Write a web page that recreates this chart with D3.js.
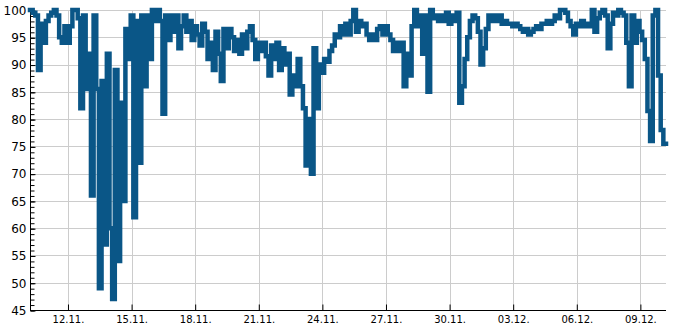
<!DOCTYPE html>
<html>
<head>
<meta charset="utf-8">
<script src="https://cdn.jsdelivr.net/npm/d3@7/dist/d3.min.js"></script>
<style>
	body { margin: 0; background: #fff; }
	svg { display: block; font-family: "DejaVu Sans", sans-serif; }
</style>
</head>
<body>
<svg id="chart" width="685" height="330"></svg>
<script>
'use strict';

//Readings: one every 3 hours, first one on 10.11. at 05:00
var firstReading = new Date(2020, 10, 10, 5, 0);
var stepHours = 3;

var levels = [
	100, 99.5, 99, 89, 97.5, 94, 98, 99, 99.5, 100,
	99, 95, 94, 97, 94, 97, 100, 100, 98.5, 82,
	99, 85.5, 92, 66, 99, 85.5, 49, 87, 57, 92,
	60, 47, 89, 54, 83, 65, 96.5, 91, 99, 62,
	98, 72, 99, 86, 99, 91, 100, 98, 100, 98,
	81, 99, 94.5, 99, 96, 99, 93, 97, 99, 96,
	98, 94.5, 97, 95.5, 93.5, 97.5, 96, 91, 94, 89,
	96, 92, 87, 96.5, 93, 96.5, 95, 92.5, 94.5, 92,
	95.5, 93, 96, 97, 94.5, 91, 94, 92.5, 94, 91.5,
	88, 93.5, 91, 94, 89, 93, 90, 92, 84.5, 88,
	86, 91, 86, 82, 71.5, 80, 70, 93, 82, 90,
	88.5, 91, 90.5, 92.5, 93.5, 95.5, 95, 97, 95.5, 97.5,
	95.5, 98, 100, 96, 98, 97, 97.5, 95.5, 94.5, 95.5,
	94.5, 96.5, 97, 95.5, 97, 95.5, 94.5, 92.5, 94, 92.5,
	94, 86, 92, 88, 97, 100, 97, 99, 92, 99,
	85, 100, 98.5, 99, 98, 99, 98, 99.5, 97.5, 99,
	98, 99.5, 83, 86, 91, 95, 98, 99, 98.5, 96,
	90, 93, 96.5, 99, 98, 99, 98, 99, 97.5, 98,
	97.5, 97.5, 97, 97.5, 97, 96.5, 96, 96.5, 95.5, 96,
	96.5, 97, 96.5, 97.5, 97.5, 98, 97.5, 98, 99, 98.5,
	100, 100, 99.5, 98, 97, 95.5, 97.5, 97, 98, 97,
	97.5, 97, 100, 96, 98.5, 99.5, 100, 99, 93, 97.5,
	99.5, 99, 100, 99.5, 99, 94, 86, 99, 94, 98,
	96, 94.5, 91, 81.5, 76, 99, 100, 88, 78, 75.5,
	75.5
];

var yMajorTicks = [45, 50, 55, 60, 65, 70, 75, 80, 85, 90, 95, 100];
var yMinorTicks = d3.range(45, 101, 1);
var xTickDays = ['2020-11-12', '2020-11-15', '2020-11-18', '2020-11-21', '2020-11-24',
	'2020-11-27', '2020-11-30', '2020-12-03', '2020-12-06', '2020-12-09'];

var lineColour = '#0a5687';
var gridColour = '#cccccc';

var plotLeft = 30, plotRight = 666, plotTop = 10, plotBottom = 310;

var parseDay = d3.timeParse('%Y-%m-%d');
var xTicks = xTickDays.map(parseDay);

var data = levels.map(function(v, i){
	return {t: new Date(firstReading.getTime() + i * stepHours * 3600 * 1000), v: v};
});

var svg = d3.select('#chart');

var x = d3.scaleTime()
	.domain(d3.extent(data, function(d){ return d.t; }))
	.range([plotLeft, plotRight]);

var y = d3.scaleLinear()
	.domain([45, 100])
	.range([plotBottom, plotTop]);

//Grid
var grid = svg.append('g').attr('class', 'grid')
	.attr('stroke', gridColour).attr('stroke-width', 1);

grid.selectAll('line.h').data(yMajorTicks).enter().append('line')
	.attr('class', 'h')
	.attr('x1', plotLeft).attr('x2', plotRight)
	.attr('y1', function(d){ return Math.round(y(d)) + 0.5; })
	.attr('y2', function(d){ return Math.round(y(d)) + 0.5; });

grid.selectAll('line.v').data(xTicks).enter().append('line')
	.attr('class', 'v')
	.attr('y1', plotTop).attr('y2', plotBottom)
	.attr('x1', function(d){ return Math.round(x(d)) + 0.5; })
	.attr('x2', function(d){ return Math.round(x(d)) + 0.5; });

//Y axis, minor ticks first, then labelled ones
svg.append('g')
	.attr('transform', 'translate(' + (plotLeft + 0.5) + ',0.5)')
	.call(d3.axisLeft(y).tickValues(yMinorTicks).tickSize(-4).tickSizeOuter(0).tickFormat(''))
	.select('.domain').remove();

var yAxis = svg.append('g')
	.attr('transform', 'translate(' + (plotLeft + 0.5) + ',0.5)')
	.call(d3.axisLeft(y).tickValues(yMajorTicks).tickSize(-5).tickSizeOuter(0).tickPadding(4));
yAxis.selectAll('text').attr('font-size', 12).attr('font-family', '"DejaVu Sans", sans-serif');
yAxis.select('.domain').attr('d', 'M0,' + plotTop + 'V' + plotBottom);

//X axis
var xAxis = svg.append('g')
	.attr('transform', 'translate(0,' + (plotBottom + 0.5) + ')')
	.call(d3.axisBottom(x).tickValues(xTicks).tickSize(-6).tickSizeOuter(0).tickPadding(5)
		.tickFormat(d3.timeFormat('%d.%m.')));
xAxis.selectAll('text').attr('font-size', 10).attr('font-family', '"DejaVu Sans", sans-serif');
xAxis.select('.domain').attr('d', 'M' + plotLeft + ',0H' + plotRight);

//Level line
var line = d3.line()
	.x(function(d){ return x(d.t); })
	.y(function(d){ return y(d.v); })
	.curve(d3.curveStepAfter);

svg.append('path')
	.datum(data)
	.attr('d', line)
	.attr('fill', 'none')
	.attr('stroke', lineColour)
	.attr('stroke-width', 4.5)
	.attr('stroke-linecap', 'square')
	.attr('stroke-linejoin', 'miter');
</script>
</body>
</html>
